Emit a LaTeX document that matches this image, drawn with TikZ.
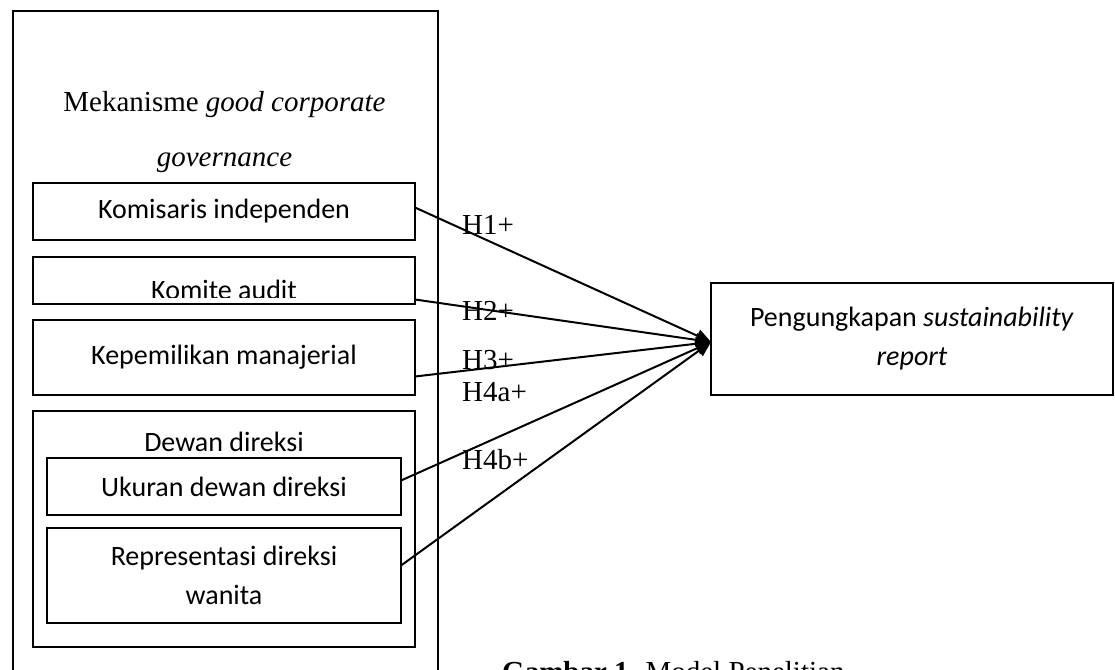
\documentclass[tikz,border=0pt]{standalone}
\usepackage{fontspec}
\setmainfont{Liberation Serif}
\newfontfamily\calibfont{Carlito}
\usepackage{tikz}
\usetikzlibrary{arrows.meta, positioning}
\tikzset{
	varbox/.style={draw, line width=1.5pt, minimum width=382pt, align=center,
		inner sep=0pt, outer sep=0pt, font=\calibfont\fontsize{28}{39}\selectfont},
	subbox/.style={varbox, minimum width=354pt},
	boxtext/.style={inner sep=0pt, font=\calibfont\fontsize{28}{39}\selectfont},
	hyp/.style={anchor=west, inner sep=0pt, font=\fontsize{29}{35}\selectfont},
	arr/.style={-{Triangle[length=15pt,width=13pt]}, line width=2pt},
}

\begin{document}
\begin{tikzpicture}[x=1pt,y=1pt]
	\useasboundingbox (0,0) rectangle (1115,-669);
	\node[draw, line width=1.6pt, minimum width=425pt, minimum height=700pt, anchor=north west] (outer) at (12,-10) {};
	\node[align=center, inner sep=0pt, font=\fontsize{29}{55}\selectfont] (title) at (224.5,-132.5)
	{Mekanisme \textit{good corporate}\\\textit{governance}};
	\node[varbox, minimum height=57pt, anchor=north] (kom) at (224,-183) {Komisaris independen};
	\node[varbox, minimum height=47pt, below=17pt of kom] (aud) {};
	\begin{scope}
		\clip (aud.north west) rectangle ([yshift=7pt]aud.south east);
		\node[boxtext, anchor=base] (audtxt) at ([yshift=5pt]aud.south) {Komite audit};
	\end{scope}
	\node[varbox, minimum height=75pt, below=16pt of aud] (kep) {Kepemilikan manajerial};
	\node[varbox, minimum height=236pt, below=16pt of kep] (dewan) {};
	\node[boxtext] (dewantxt) at ([yshift=-31pt]dewan.north) {Dewan direksi};
	\node[subbox, minimum height=57pt, anchor=north] (ukur) at ([yshift=-47pt]dewan.north) {Ukuran dewan direksi};
	\node[subbox, minimum height=95pt, below=13pt of ukur] (rep) {Representasi direksi\\wanita};
	\node[varbox, minimum width=402pt, minimum height=112pt, anchor=north west] (srep) at (711,-283)
	{Pengungkapan \textit{sustainability}\\\textit{report}};
	\node[hyp] (h1) at (462,-225) {H1+};
	\node[hyp] (h2) at (462,-311) {H2+};
	\node[hyp] (h3) at (462,-360) {H3+};
	\node[hyp] (h4a) at (462,-392) {H4a+};
	\node[hyp] (h4b) at (462,-460) {H4b+};
	\coordinate (tip) at ([yshift=-3pt]srep.west);
	\draw[arr] ([yshift=4pt]kom.east) -- (tip);
	\draw[arr] ([yshift=-19pt]aud.east) -- (tip);
	\draw[arr] ([yshift=-19pt]kep.east) -- (tip);
	\draw[arr] ([yshift=6pt]ukur.east) -- (tip);
	\draw[arr] ([yshift=10pt]rep.east) -- (tip);
	\node[anchor=base west, inner sep=0pt, font=\fontsize{29}{35}\selectfont] (cap) at (502,-681)
	{\textbf{Gambar 1.} Model Penelitian};
\end{tikzpicture}
\end{document}
